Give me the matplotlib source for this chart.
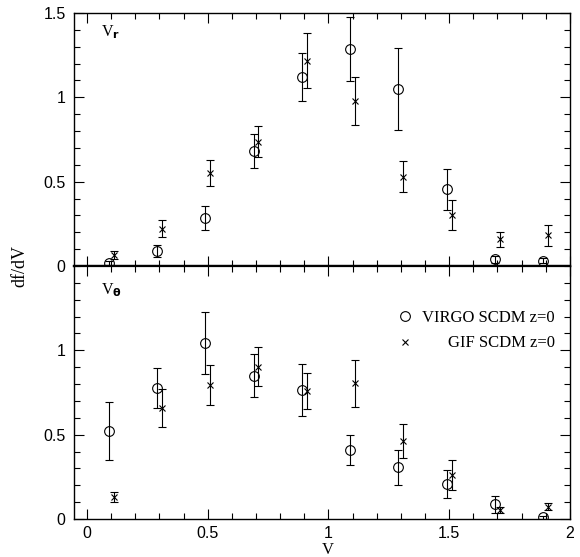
import numpy as np
import matplotlib.pyplot as plt
from matplotlib.ticker import MultipleLocator, FuncFormatter
from matplotlib.lines import Line2D

# --- data ---
v_virgo = [0.09, 0.29, 0.49, 0.69, 0.89, 1.09, 1.29, 1.49, 1.69, 1.89]
v_gif = [0.11, 0.31, 0.51, 0.71, 0.91, 1.11, 1.31, 1.51, 1.71, 1.91]

# V_r panel
vr_virgo = [0.018, 0.09, 0.283, 0.68, 1.12, 1.286, 1.049, 0.455, 0.04, 0.031]
vr_virgo_err = [0.01, 0.035, 0.07, 0.1, 0.14, 0.19, 0.245, 0.12, 0.02, 0.015]
vr_gif = [0.065, 0.22, 0.553, 0.737, 1.217, 0.98, 0.529, 0.302, 0.158, 0.182]
vr_gif_err = [0.025, 0.05, 0.078, 0.093, 0.163, 0.143, 0.093, 0.091, 0.046, 0.064]

# V_theta panel
vt_virgo = [0.522, 0.778, 1.045, 0.85, 0.765, 0.409, 0.306, 0.207, 0.087, 0.01]
vt_virgo_err = [0.171, 0.12, 0.185, 0.128, 0.157, 0.089, 0.103, 0.082, 0.05, 0.008]
vt_gif = [0.132, 0.66, 0.794, 0.903, 0.759, 0.804, 0.462, 0.261, 0.053, 0.073]
vt_gif_err = [0.03, 0.112, 0.117, 0.117, 0.109, 0.139, 0.1, 0.089, 0.017, 0.02]

labels = ['VIRGO SCDM z=0', 'GIF SCDM z=0']

serif = ['Liberation Serif', 'DejaVu Serif']
sans = ['Liberation Sans', 'DejaVu Sans']

fig = plt.figure(figsize=(5.8, 5.57), dpi=100)
ax_top = fig.add_axes([0.1276, 0.5224, 0.855, 0.4543])
ax_bot = fig.add_axes([0.1276, 0.0682, 0.855, 0.4542], sharex=ax_top)

CIRC = dict(marker='o', mfc='none', mec='black', ms=7, mew=0.8)
CROSS = dict(marker='x', color='black', ms=5, mew=0.8)

def draw(ax, y1, e1, y2, e2):
    ax.errorbar(v_virgo, y1, yerr=e1, ls='none', ecolor='black', elinewidth=0.8,
                capsize=3, capthick=0.8, **CIRC)
    ax.errorbar(v_gif, y2, yerr=e2, ls='none', elinewidth=0.8,
                capsize=3, capthick=0.8, **CROSS)
    ax.set_xlim(-0.054, 2.0)
    ax.set_ylim(0, 1.5)
    ax.xaxis.set_major_locator(MultipleLocator(0.5))
    ax.xaxis.set_minor_locator(MultipleLocator(0.1))
    ax.yaxis.set_major_locator(MultipleLocator(0.5))
    ax.yaxis.set_minor_locator(MultipleLocator(0.1))
    ax.tick_params(which='both', direction='in', top=True, right=True, width=0.8)
    ax.tick_params(which='major', length=7)
    ax.tick_params(which='minor', length=4)
    ax.tick_params(axis='y', pad=6)
    ax.tick_params(axis='x', pad=5)
    fmt = FuncFormatter(lambda x, p: '%g' % x)
    ax.xaxis.set_major_formatter(fmt)
    ax.yaxis.set_major_formatter(fmt)
    for s in ax.spines.values():
        s.set_linewidth(1.0)

draw(ax_top, vr_virgo, vr_virgo_err, vr_gif, vr_gif_err)
draw(ax_bot, vt_virgo, vt_virgo_err, vt_gif, vt_gif_err)

ax_top.tick_params(labelbottom=False)
ax_top.spines['bottom'].set_linewidth(1.6)
ax_bot.spines['top'].set_linewidth(1.6)
ax_bot.set_yticks([0, 0.5, 1])
for ax in (ax_top, ax_bot):
    for lab in ax.get_xticklabels() + ax.get_yticklabels():
        lab.set_family(sans)
        lab.set_fontsize(11.5)

ax_top.text(0.055, 0.925, r'V$_\mathbf{r}$', transform=ax_top.transAxes,
            family=serif, fontsize=11.5, va='center')
ax_bot.text(0.055, 0.905, r'V$_\mathbf{\theta}$', transform=ax_bot.transAxes,
            family=serif, fontsize=11.5, va='center')

handles = [Line2D([], [], ls='none', **CIRC), Line2D([], [], ls='none', **CROSS)]
leg = ax_bot.legend(handles, labels, loc='upper right', bbox_to_anchor=(0.97, 0.825),
                    frameon=False, prop={'family': serif, 'size': 12},
                    handlelength=1.0, handletextpad=0.55, labelspacing=0.55,
                    borderaxespad=0, borderpad=0)

# right-align legend labels
fig.canvas.draw()
r = fig.canvas.get_renderer()
widths = [t.get_window_extent(r).width for t in leg.get_texts()]
for t, w in zip(leg.get_texts(), widths):
    t.set_position((max(widths) - w, 0))

fig.text(0.566, -0.002, 'V', family=serif, fontsize=12, ha='center', va='bottom')
fig.text(0.035, 0.5224, 'df/dV', family=serif, fontsize=13, rotation=90,
         va='center', ha='center')

fig.savefig('out.png', dpi=100)
